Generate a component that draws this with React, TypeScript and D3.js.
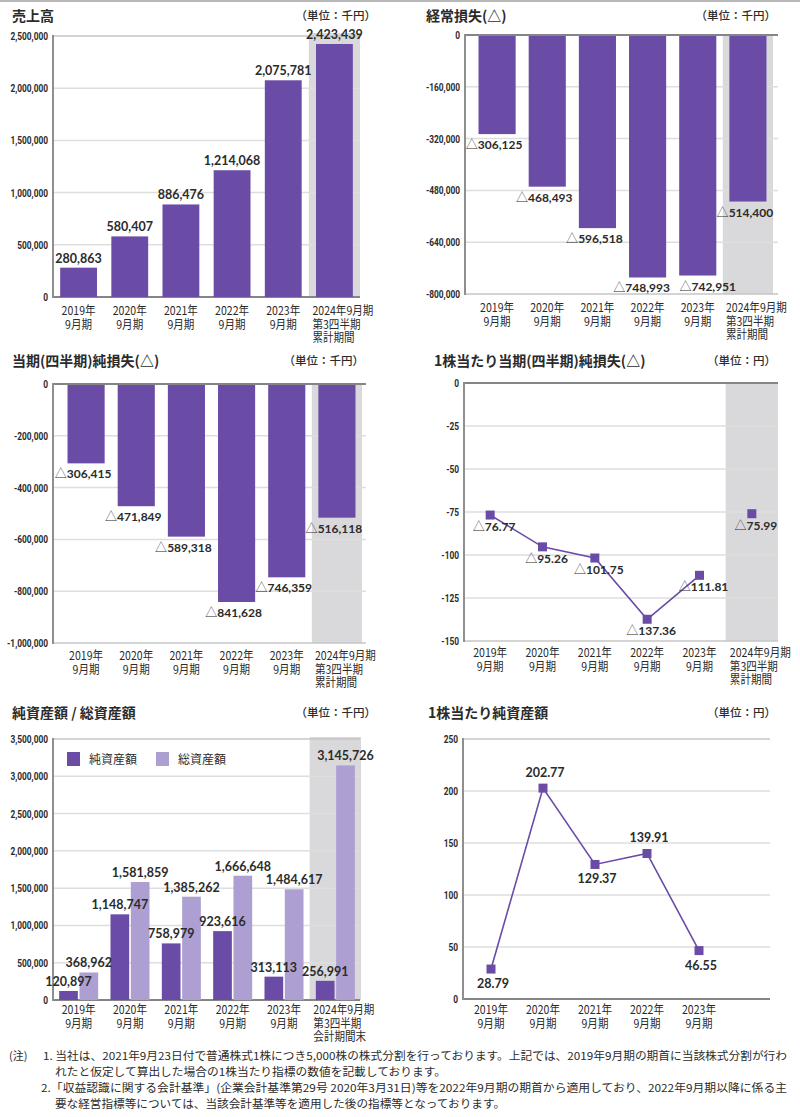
import React from "react";
import * as d3 from "d3";

// ---------- data ----------
const categories: string[][] = [
  ["2019年", "9月期"],
  ["2020年", "9月期"],
  ["2021年", "9月期"],
  ["2022年", "9月期"],
  ["2023年", "9月期"],
  ["2024年9月期", "第3四半期", "累計期間"],
];
const categoriesBS: string[][] = [
  ["2019年", "9月期"],
  ["2020年", "9月期"],
  ["2021年", "9月期"],
  ["2022年", "9月期"],
  ["2023年", "9月期"],
  ["2024年9月期", "第3四半期", "会計期間末"],
];
const categoriesBPS: string[][] = [
  ["2019年", "9月期"],
  ["2020年", "9月期"],
  ["2021年", "9月期"],
  ["2022年", "9月期"],
  ["2023年", "9月期"],
];

const sales = [280863, 580407, 886476, 1214068, 2075781, 2423439];
const salesTicks = [0, 500000, 1000000, 1500000, 2000000, 2500000];

const ordinaryLoss = [-306125, -468493, -596518, -748993, -742951, -514400];
const ordinaryTicks = [0, -160000, -320000, -480000, -640000, -800000];

const netLoss = [-306415, -471849, -589318, -841628, -746359, -516118];
const netLossTicks = [0, -200000, -400000, -600000, -800000, -1000000];

const epsLoss = [-76.77, -95.26, -101.75, -137.36, -111.81, -75.99];
const epsTicks = [0, -25, -50, -75, -100, -125, -150];

const netAssets = [120897, 1148747, 758979, 923616, 313113, 256991];
const totalAssets = [368962, 1581859, 1385262, 1666648, 1484617, 3145726];
const assetTicks = [0, 500000, 1000000, 1500000, 2000000, 2500000, 3000000, 3500000];
const assetSeries = ["純資産額", "総資産額"];

const bps = [28.79, 202.77, 129.37, 139.91, 46.55];
const bpsTicks = [0, 50, 100, 150, 200, 250];

const titles = [
  "売上高",
  "経常損失(△)",
  "当期(四半期)純損失(△)",
  "1株当たり当期(四半期)純損失(△)",
  "純資産額 / 総資産額",
  "1株当たり純資産額",
];
const unitYen1000 = "（単位：千円）";
const unitYen = "（単位：円）";

const notes = [
  "1. 当社は、2021年9月23日付で普通株式1株につき5,000株の株式分割を行っております。上記では、2019年9月期の期首に当該株式分割が行わ",
  "れたと仮定して算出した場合の1株当たり指標の数値を記載しております。",
  "2.「収益認識に関する会計基準」(企業会計基準第29号 2020年3月31日)等を2022年9月期の期首から適用しており、2022年9月期以降に係る主",
  "要な経営指標等については、当該会計基準等を適用した後の指標等となっております。",
];

// ---------- style ----------
const PURPLE = "#6a4ca6";
const LIGHT = "#ad9fd2";
const BAND = "#d9d9db";
const TEXT = "#2b2b2b";
const JP = "'Noto Sans CJK JP', 'Noto Sans', sans-serif";
const NUM = "Lato, 'Open Sans', sans-serif";
const TICKF = "Roboto, 'Liberation Sans', sans-serif";

const fmtTick = (v: number) => d3.format(",")(v).replace("−", "-");
const fmtNum = (v: number) => d3.format(",")(Math.abs(v));

function Grid({ y, ticks, x0, x1 }: { y: d3.ScaleLinear<number, number>; ticks: number[]; x0: number; x1: number }) {
  const mn = d3.min(ticks)!;
  const mx = d3.max(ticks)!;
  return (
    <g>
      {ticks.map((t) => (
        <line
          key={"g" + t}
          x1={x0}
          x2={x1}
          y1={y(t)}
          y2={y(t)}
          stroke={t === 0 ? "#858585" : t === mn || t === mx ? "#c6c6c6" : "#dedede"}
          strokeWidth={t === 0 ? 2 : 1.5}
        />
      ))}
      <line x1={x0} x2={x0} y1={y(mx) - 1} y2={y(mn) + 1} stroke="#8f8f8f" strokeWidth={2} />
      {ticks.map((t) => (
        <text
          key={"t" + t}
          transform={`translate(${x0 - 5},${y(t) + 4}) scale(0.76,1)`}
          textAnchor="end"
          fontFamily={TICKF}
          fontWeight={700}
          fontSize={11}
          fill={TEXT}
        >
          {fmtTick(t)}
        </text>
      ))}
    </g>
  );
}

function CatLabels({ xs, cats, y0 }: { xs: number[]; cats: string[][]; y0: number }) {
  return (
    <g>
      {cats.map((lines, i) => {
        const multi = lines.length > 2;
        return lines.map((l, j) => (
          <text
            key={i + "-" + j}
            transform={`translate(${multi ? xs[i] - 22 : xs[i]},${y0 + j * 13.5}) scale(0.88,1)`}
            textAnchor={multi ? "start" : "middle"}
            fontFamily={JP}
            fontSize={12}
            fill={TEXT}
          >
            {l}
          </text>
        ));
      })}
    </g>
  );
}

function Title({ x, y, text, unitRight, unit }: { x: number; y: number; text: string; unitRight: number; unit: string }) {
  return (
    <g>
      <text x={x} y={y} fontFamily={JP} fontWeight={700} fontSize={14} fill={TEXT}>
        {text}
      </text>
      <text x={unitRight} y={y - 1} textAnchor="end" fontFamily={JP} fontWeight={500} fontSize={11.5} fill={TEXT}>
        {unit}
      </text>
    </g>
  );
}

function ValueLabel({ x, y, v, tri }: { x: number; y: number; v: number; tri?: boolean }) {
  return (
    <text x={x} y={y} textAnchor="middle" fontFamily={NUM} fontWeight={700} fontSize={tri ? 12 : 12.5} fill={TEXT}>
      {tri ? (
        <tspan fontFamily={JP} fontWeight={300} fontSize={12}>
          △
        </tspan>
      ) : null}
      {Math.abs(v) < 1000 ? Math.abs(v).toFixed(2) : fmtNum(v)}
    </text>
  );
}

function bandScale(r: [number, number], n: number, pad = 0.28) {
  return d3
    .scaleBand<number>()
    .domain(d3.range(n))
    .range(r)
    .paddingInner(pad)
    .paddingOuter(pad / 2);
}

function SalesPanel() {
  const x = bandScale([53, 360], categories.length);
  const y = d3.scaleLinear().domain([0, 2500000]).range([297, 36]);
  const step = x.step();
  const bx = x(5)! - x.paddingOuter() * step;
  return (
    <g>
      <Title x={12} y={21} text={titles[0]} unitRight={376} unit={unitYen1000} />
      <rect x={bx} y={y(2500000) - 3} width={step} height={y(0) - y(2500000) + 3} fill={BAND} />
      <Grid y={y} ticks={salesTicks} x0={53} x1={360} />
      {sales.map((v, i) => (
        <g key={i}>
          <rect x={x(i)} y={y(v)} width={x.bandwidth()} height={y(0) - y(v)} fill={PURPLE} />
          <ValueLabel x={x(i)! + x.bandwidth() / 2} y={y(v) - 5} v={v} />
        </g>
      ))}
      <CatLabels xs={categories.map((_, i) => x(i)! + x.bandwidth() / 2)} cats={categories} y0={315} />
    </g>
  );
}

function LossBarPanel({
  data,
  ticks,
  range,
  axisX,
  right,
  yRange,
  title,
  tx,
  ty,
  catY,
}: {
  data: number[];
  ticks: number[];
  range: [number, number];
  axisX: number;
  right: number;
  yRange: [number, number];
  title: string;
  tx: number;
  ty: number;
  catY: number;
}) {
  const x = bandScale(range, categories.length, 0.26);
  const y = d3.scaleLinear().domain([d3.min(ticks)!, 0]).range(yRange);
  const step = x.step();
  const bx = x(5)! - x.paddingOuter() * step;
  const mn = d3.min(ticks)!;
  // simple collision avoidance for neighbouring labels at similar heights
  const close = (a: number, b: number) => Math.abs(y(data[a]) - y(data[b])) < 14;
  const dx = data.map((_, i) => {
    if (i > 0 && close(i, i - 1)) return 10;
    if (i < data.length - 1 && close(i, i + 1)) return -6;
    return -3;
  });
  return (
    <g>
      <Title x={tx} y={ty} text={title} unitRight={right - 2} unit={unitYen1000} />
      <rect x={bx} y={y(0)} width={step} height={y(mn) - y(0)} fill={BAND} />
      <Grid y={y} ticks={ticks} x0={axisX} x1={right} />
      {data.map((v, i) => (
        <g key={i}>
          <rect x={x(i)} y={y(0) + 1} width={x.bandwidth()} height={y(v) - y(0) - 1} fill={PURPLE} />
          <ValueLabel x={x(i)! + x.bandwidth() / 2 + dx[i]} y={y(v) + 15} v={v} tri />
        </g>
      ))}
      <CatLabels xs={categories.map((_, i) => x(i)! + x.bandwidth() / 2)} cats={categories} y0={catY} />
    </g>
  );
}

function EpsPanel() {
  const x = d3.scalePoint<number>().domain(d3.range(categories.length)).range([464, 778]).padding(0.5);
  const y = d3.scaleLinear().domain([-150, 0]).range([641, 383]);
  const step = x.step();
  const bx = x(5)! - step / 2;
  const line = d3
    .line<number>()
    .x((_, i) => x(i)!)
    .y((d) => y(d));
  return (
    <g>
      <Title x={434} y={366} text={titles[3]} unitRight={776} unit={unitYen} />
      <rect x={bx} y={y(0)} width={778 - bx} height={y(-150) - y(0)} fill={BAND} />
      <Grid y={y} ticks={epsTicks} x0={464} x1={778} />
      <path d={line(epsLoss.slice(0, 5))!} fill="none" stroke={PURPLE} strokeWidth={1.6} />
      {epsLoss.map((v, i) => (
        <g key={i}>
          <rect x={x(i)! - 4.5} y={y(v) - 4.5} width={9} height={9} fill={PURPLE} />
          <ValueLabel x={x(i)! + 4} y={y(v) + 16} v={v} tri />
        </g>
      ))}
      <CatLabels xs={categories.map((_, i) => x(i)!)} cats={categories} y0={657} />
    </g>
  );
}

function AssetsPanel() {
  const x0 = bandScale([53, 361], categoriesBS.length, 0.24);
  const x1 = d3.scaleBand<number>().domain([0, 1]).range([0, x0.bandwidth()]).paddingInner(0.08);
  const y = d3.scaleLinear().domain([0, 3500000]).range([1000, 739]);
  const step = x0.step();
  const bx = x0(5)! - x0.paddingOuter() * step;
  const series = [netAssets, totalAssets];
  const colors = [PURPLE, LIGHT];
  return (
    <g>
      <Title x={12} y={718} text={titles[4]} unitRight={376} unit={unitYen1000} />
      <rect x={bx} y={y(3500000) - 2} width={step} height={y(0) - y(3500000) + 2} fill={BAND} />
      <Grid y={y} ticks={assetTicks} x0={53} x1={360} />
      {series.map((s, k) =>
        s.map((v, i) => (
          <rect key={k + "-" + i} x={x0(i)! + x1(k)!} y={y(v)} width={x1.bandwidth()} height={y(0) - y(v)} fill={colors[k]} />
        ))
      )}
      {series.map((s, k) =>
        s.map((v, i) => (
          <ValueLabel key={"l" + k + "-" + i} x={x0(i)! + x1(k)! + x1.bandwidth() / 2} y={y(v) - 5} v={v} />
        ))
      )}
      {assetSeries.map((name, k) => (
        <g key={name} transform={`translate(${67 + k * 89},752)`}>
          <rect x={0} y={0} width={13} height={14} fill={colors[k]} />
          <text x={22} y={12} fontFamily={JP} fontSize={12} fill={TEXT}>
            {name}
          </text>
        </g>
      ))}
      <CatLabels xs={categoriesBS.map((_, i) => x0(i)! + x0.bandwidth() / 2)} cats={categoriesBS} y0={1014} />
    </g>
  );
}

function BpsPanel() {
  const x = d3.scalePoint<number>().domain(d3.range(categories.length)).range([465, 777]).padding(0.5);
  const y = d3.scaleLinear().domain([0, 250]).range([999, 739]);
  const line = d3
    .line<number>()
    .x((_, i) => x(i)!)
    .y((d) => y(d));
  const isPeak = (i: number) => {
    const l = i > 0 ? bps[i - 1] : -Infinity;
    const r = i < bps.length - 1 ? bps[i + 1] : -Infinity;
    return bps[i] > l && bps[i] > r;
  };
  return (
    <g>
      <Title x={428} y={718} text={titles[5]} unitRight={776} unit={unitYen} />
      <Grid y={y} ticks={bpsTicks} x0={463} x1={770} />
      <path d={line(bps)!} fill="none" stroke={PURPLE} strokeWidth={1.6} />
      {bps.map((v, i) => (
        <g key={i}>
          <rect x={x(i)! - 4.5} y={y(v) - 4.5} width={9} height={9} fill={PURPLE} />
          <ValueLabel x={x(i)! + 2} y={isPeak(i) ? y(v) - 11 : y(v) + 19} v={v} />
        </g>
      ))}
      <CatLabels xs={categoriesBPS.map((_, i) => x(i)!)} cats={categoriesBPS} y0={1014} />
    </g>
  );
}

function Notes() {
  const xs = [43, 55, 41, 55];
  const ends = [787, 446, 787, 505];
  return (
    <g fontFamily={JP} fontSize={11} fill={TEXT}>
      <text x={9} y={1060}>
        (注)
      </text>
      {notes.map((n, i) => (
        <text key={i} x={xs[i]} y={1060 + i * 16} textLength={ends[i] - xs[i]} lengthAdjust="spacingAndGlyphs">
          {n}
        </text>
      ))}
    </g>
  );
}

export default function App() {
  return (
    <svg
      width={800}
      height={1117}
      viewBox="0 0 800 1117"
      style={{ position: "absolute", left: 0, top: 0, background: "#fff" }}
    >
      <rect x={0} y={0} width={800} height={1117} fill="#fff" />
      <line x1={0} x2={800} y1={1} y2={1} stroke="#b8b8b8" strokeWidth={2} />
      <SalesPanel />
      <LossBarPanel
        data={ordinaryLoss}
        ticks={ordinaryTicks}
        range={[472, 773]}
        axisX={465}
        right={778}
        yRange={[294, 35]}
        title={titles[1]}
        tx={426}
        ty={21}
        catY={312}
      />
      <LossBarPanel
        data={netLoss}
        ticks={netLossTicks}
        range={[61, 362]}
        axisX={53}
        right={366}
        yRange={[643, 384]}
        title={titles[2]}
        tx={12}
        ty={366}
        catY={660}
      />
      <EpsPanel />
      <AssetsPanel />
      <BpsPanel />
      <Notes />
    </svg>
  );
}
